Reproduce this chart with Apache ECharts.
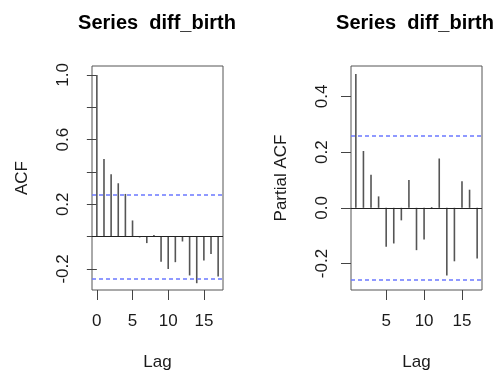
<!DOCTYPE html>
<html><head><meta charset="utf-8">
<script src="https://cdn.jsdelivr.net/npm/echarts@6/dist/echarts.min.js"></script>
<style>html,body{margin:0;padding:0;background:#fff}#c{width:497px;height:376px}</style>
</head><body><div id="c"></div>
<script>
const titleText = 'Series  diff_birth';
const acfLags = [0,1,2,3,4,5,6,7,8,9,10,11,12,13,14,15,16,17];
const acfValues = [1.0,0.48,0.385,0.33,0.264,0.10,-0.005,-0.04,0.01,-0.155,-0.20,-0.158,-0.03,-0.24,-0.288,-0.148,-0.107,-0.247];
const pacfLags = [1,2,3,4,5,6,7,8,9,10,11,12,13,14,15,16,17];
const pacfValues = [0.48,0.204,0.119,0.041,-0.14,-0.128,-0.045,0.10,-0.152,-0.114,0.003,0.177,-0.243,-0.192,0.095,0.065,-0.182];
const ciBound = 0.264;
const acfYTicks = [-0.2,0,0.2,0.4,0.6,0.8,1.0];
const acfYLabels = [-0.2,0.2,0.6,1.0];
const pacfYTicks = [-0.2,0,0.2,0.4];
const acfXTicks = [0,5,10,15];
const pacfXTicks = [5,10,15];

const FONT = 'Liberation Sans, Arial, Helvetica, sans-serif';
const TXT = '#1a1a1a';

function xAxis(gi, min, max, ticks){
  return {
    type:'value', gridIndex:gi, min:min, max:max, position:'bottom',
    name:'Lag', nameLocation:'middle', nameGap:64,
    nameTextStyle:{fontFamily:FONT,fontSize:17,color:TXT},
    axisLine:{show:false,onZero:false},
    splitLine:{show:false},
    axisTick:{show:true,length:10,customValues:ticks,lineStyle:{color:'#444',width:1}},
    axisLabel:{show:true,customValues:ticks,margin:23,fontFamily:FONT,fontSize:17,color:TXT,
      formatter:v=>String(v)}
  };
}
function yAxis(gi, min, max, ticks, labels, name){
  return {
    type:'value', gridIndex:gi, min:min, max:max,
    name:name, nameLocation:'middle', nameRotate:90, nameGap:61,
    nameTextStyle:{fontFamily:FONT,fontSize:17,color:TXT},
    axisLine:{show:false},
    splitLine:{show:false},
    axisTick:{show:true,length:10,customValues:ticks,lineStyle:{color:'#444',width:1}},
    axisLabel:{show:true,customValues:labels,rotate:90,margin:20,fontFamily:FONT,fontSize:17,color:TXT,
      formatter:v=>Number(v).toFixed(1)}
  };
}
function ciLines(){
  return {
    silent:true, symbol:['none','none'], label:{show:false},
    lineStyle:{color:'#6b78ff',type:[4,3],width:1.5},
    emphasis:{disabled:true},
    data:[ {yAxis:ciBound}, {yAxis:-ciBound} ]
  };
}
function zeroLine(){
  return {
    silent:true, symbol:['none','none'], label:{show:false},
    lineStyle:{color:'#222',type:'solid',width:1},
    emphasis:{disabled:true},
    data:[ {yAxis:0} ]
  };
}

const chart = echarts.init(document.getElementById('c'), null, {renderer:'canvas'});
chart.setOption({
  backgroundColor:'#fff',
  animation:false,
  title:[
    {text:titleText,left:152,top:8,textAlign:'center',textStyle:{fontFamily:FONT,fontSize:20,fontWeight:'bold',color:'#000'}},
    {text:titleText,left:410,top:8,textAlign:'center',textStyle:{fontFamily:FONT,fontSize:20,fontWeight:'bold',color:'#000'}}
  ],
  grid:[
    {left:92,top:66,width:131,height:224,show:true,borderColor:'#555',borderWidth:1,backgroundColor:'transparent'},
    {left:351,top:66,width:131,height:224,show:true,borderColor:'#555',borderWidth:1,backgroundColor:'transparent'}
  ],
  xAxis:[ xAxis(0,-0.68,17.68,acfXTicks), xAxis(1,0.36,17.64,pacfXTicks) ],
  yAxis:[ yAxis(0,-0.33,1.055,acfYTicks,acfYLabels,'ACF'), yAxis(1,-0.295,0.509,pacfYTicks,pacfYTicks,'Partial ACF') ],
  series:[
    {type:'bar',xAxisIndex:0,yAxisIndex:0,barWidth:1.6,itemStyle:{color:'#555'},
      data:acfLags.map((l,i)=>[l,acfValues[i]]),markLine:zeroLine()},
    {type:'line',xAxisIndex:0,yAxisIndex:0,data:[],markLine:ciLines()},
    {type:'bar',xAxisIndex:1,yAxisIndex:1,barWidth:1.6,itemStyle:{color:'#555'},
      data:pacfLags.map((l,i)=>[l,pacfValues[i]]),markLine:zeroLine()},
    {type:'line',xAxisIndex:1,yAxisIndex:1,data:[],markLine:ciLines()}
  ]
});
</script></body></html>
